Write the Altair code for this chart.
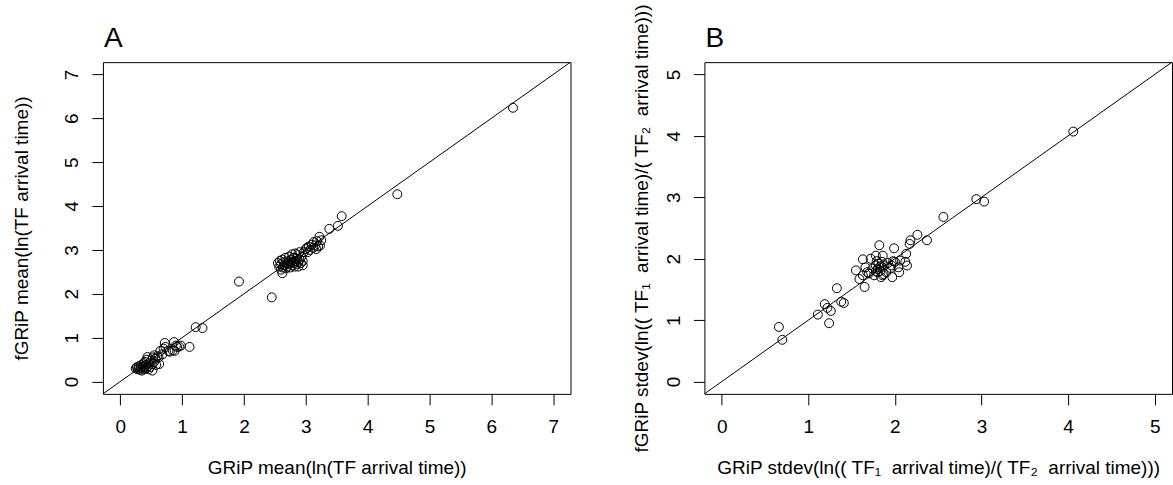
import altair as alt
import pandas as pd

FONT = "Liberation Sans"

# Panel A: GRiP mean vs fGRiP mean of ln(TF arrival time)
a_x = [0.25, 0.27, 0.28, 0.30, 0.30, 0.32, 0.33, 0.34, 0.35, 0.36, 0.37, 0.38, 0.38,
       0.40, 0.40, 0.42, 0.42, 0.43, 0.44, 0.45, 0.46, 0.47, 0.48, 0.50, 0.52, 0.52,
       0.53, 0.55, 0.55, 0.57, 0.58, 0.60, 0.62, 0.63,
       0.65, 0.68, 0.70, 0.72, 0.73, 0.78, 0.80, 0.85, 0.87, 0.88, 0.90, 0.92, 0.95, 0.98,
       1.12, 1.22, 1.33, 1.92, 2.45,
       2.55, 2.57, 2.58, 2.60, 2.60, 2.62, 2.62, 2.63, 2.65, 2.65, 2.67, 2.68, 2.70, 2.70,
       2.72, 2.72, 2.73, 2.75, 2.75, 2.77, 2.78, 2.78, 2.80, 2.80, 2.82, 2.82, 2.83, 2.85,
       2.85, 2.87, 2.88, 2.88, 2.90, 2.90, 2.92, 2.93, 2.95, 2.95,
       2.97, 3.00, 3.02, 3.03, 3.05, 3.07, 3.10, 3.12, 3.13, 3.15, 3.17, 3.18, 3.20, 3.22,
       3.23, 3.25,
       3.38, 3.52, 3.58, 4.48, 6.35]
a_y = [0.30, 0.33, 0.28, 0.35, 0.30, 0.27, 0.32, 0.38, 0.25, 0.30, 0.35, 0.42, 0.28,
       0.33, 0.45, 0.30, 0.38, 0.50, 0.56, 0.35, 0.28, 0.42, 0.33, 0.48, 0.40, 0.25,
       0.55, 0.60, 0.45, 0.52, 0.38, 0.58, 0.55, 0.40,
       0.70, 0.62, 0.75, 0.88, 0.79, 0.70, 0.68, 0.71, 0.90, 0.70, 0.82, 0.79, 0.80, 0.82,
       0.79, 1.24, 1.22, 2.28, 1.92,
       2.70, 2.62, 2.75, 2.55, 2.68, 2.47, 2.78, 2.60, 2.72, 2.65, 2.82, 2.58, 2.70, 2.62,
       2.75, 2.68, 2.85, 2.60, 2.72, 2.78, 2.65, 2.90, 2.70, 2.82, 2.62, 2.75, 2.92, 2.68,
       2.80, 2.88, 2.72, 2.62, 2.78, 2.95, 2.70, 2.85, 2.65, 2.75,
       2.95, 3.02, 3.05, 2.95, 3.08, 3.00, 3.12, 3.05, 3.18, 3.10, 3.02, 3.20, 3.08, 3.30,
       3.10, 3.22,
       3.48, 3.55, 3.77, 4.27, 6.24]

# Panel B: GRiP stdev vs fGRiP stdev of ln(TF1 time / TF2 time)
b_x = [0.66, 0.70, 1.11, 1.19, 1.22, 1.26, 1.24, 1.33, 1.38, 1.41,
       1.55, 1.59, 1.65, 1.63, 1.66, 1.63, 1.72, 1.70, 1.78, 1.82, 1.78, 1.80, 1.84, 1.74,
       1.86, 1.88, 1.86, 1.76, 1.82, 1.90, 1.96, 1.99, 1.97, 1.98, 2.00, 2.05, 2.06, 2.04,
       2.13, 2.14, 2.12, 2.17, 2.18, 2.26, 2.37, 2.56, 2.94, 3.03, 4.06,
       1.80, 1.83, 1.81, 1.85, 1.78, 1.84, 1.79, 1.92, 1.95, 1.68, 1.87]
b_y = [0.89, 0.68, 1.09, 1.26, 1.20, 1.15, 0.95, 1.52, 1.30, 1.28,
       1.81, 1.67, 1.54, 1.99, 1.86, 1.73, 2.00, 1.76, 2.05, 2.22, 1.89, 1.78, 1.70, 1.84,
       2.05, 1.89, 1.73, 1.73, 1.86, 1.78, 1.89, 2.17, 1.70, 1.96, 1.95, 1.78, 1.97, 1.86,
       2.08, 1.89, 1.95, 2.24, 2.30, 2.39, 2.30, 2.68, 2.97, 2.93, 4.07,
       1.83, 1.80, 1.92, 1.95, 1.80, 1.88, 1.96, 1.93, 1.85, 1.78, 1.75]

A_DOMAIN = [-0.28, 7.28]
B_DOMAIN = [-0.2, 5.2]
A_TICKS = [0, 1, 2, 3, 4, 5, 6, 7]
B_TICKS = [0, 1, 2, 3, 4, 5]

PANEL_LETTERS = ["A", "B"]
A_XTITLE = "GRiP mean(ln(TF arrival time))"
A_YTITLE = "fGRiP mean(ln(TF arrival time))"
B_XTITLE = "GRiP stdev(ln(( TF\u2081 \u00a0arrival time)/( TF\u2082 \u00a0arrival time)))"
B_YTITLE = "fGRiP stdev(ln(( TF\u2081 \u00a0arrival time)/( TF\u2082 \u00a0arrival time)))"

W, H = 468, 332
FS = 19


def common_axis():
    return dict(domain=False, grid=False, ticks=True, tickSize=11, tickColor="black",
                tickWidth=1, labelFont=FONT, labelFontSize=FS, labelColor="black",
                titleFont=FONT, titleFontSize=FS, titleFontWeight="normal",
                titleColor="black", labelFlush=False, labelOverlap=False, format="d")


def x_axis(title, ticks):
    return alt.Axis(values=ticks, title=title, labelPadding=13, titleX=W / 2, titleY=80,
                    titleAlign="center", titleBaseline="alphabetic", **common_axis())


def y_axis(title, ticks, tx):
    return alt.Axis(values=ticks, title=title, labelAngle=270, labelAlign="center",
                    labelBaseline="bottom", labelPadding=10, titleX=tx, titleY=H / 2,
                    titleAngle=270, titleAlign="center", titleBaseline="alphabetic",
                    **common_axis())


def panel(xs, ys, domain, ticks, xt, yt, letter, tx):
    pts = pd.DataFrame({"x": xs, "y": ys})
    ref = pd.DataFrame({"x": domain, "y": domain})
    sc = alt.Scale(domain=domain, nice=False, zero=False)
    line = alt.Chart(ref).mark_line(color="black", strokeWidth=1, clip=True).encode(
        x=alt.X("x:Q", scale=sc, axis=x_axis(xt, ticks)),
        y=alt.Y("y:Q", scale=sc, axis=y_axis(yt, ticks, tx)),
    )
    dots = alt.Chart(pts).mark_point(shape="circle", filled=False, size=80, color="black",
                                     strokeWidth=1, opacity=1).encode(
        x=alt.X("x:Q", scale=sc),
        y=alt.Y("y:Q", scale=sc),
    )
    label = alt.Chart(pd.DataFrame({"t": [letter]})).mark_text(
        align="left", baseline="alphabetic", fontSize=28, font=FONT, color="black"
    ).encode(x=alt.value(1), y=alt.value(-15), text="t:N")
    return alt.layer(line, dots, label).properties(width=W, height=H)


chartA = panel(a_x, a_y, A_DOMAIN, A_TICKS, A_XTITLE, A_YTITLE, PANEL_LETTERS[0], -75)
chartB = panel(b_x, b_y, B_DOMAIN, B_TICKS, B_XTITLE, B_YTITLE, PANEL_LETTERS[1], -57)

chart = alt.hconcat(chartA, chartB, spacing=134, bounds="flush").configure_view(
    stroke="black", strokeWidth=1
).properties(padding={"left": 12, "top": 2, "right": 0, "bottom": 0}, background="white")

chart.save("out.html", embed_options={"renderer": "svg", "actions": False})
